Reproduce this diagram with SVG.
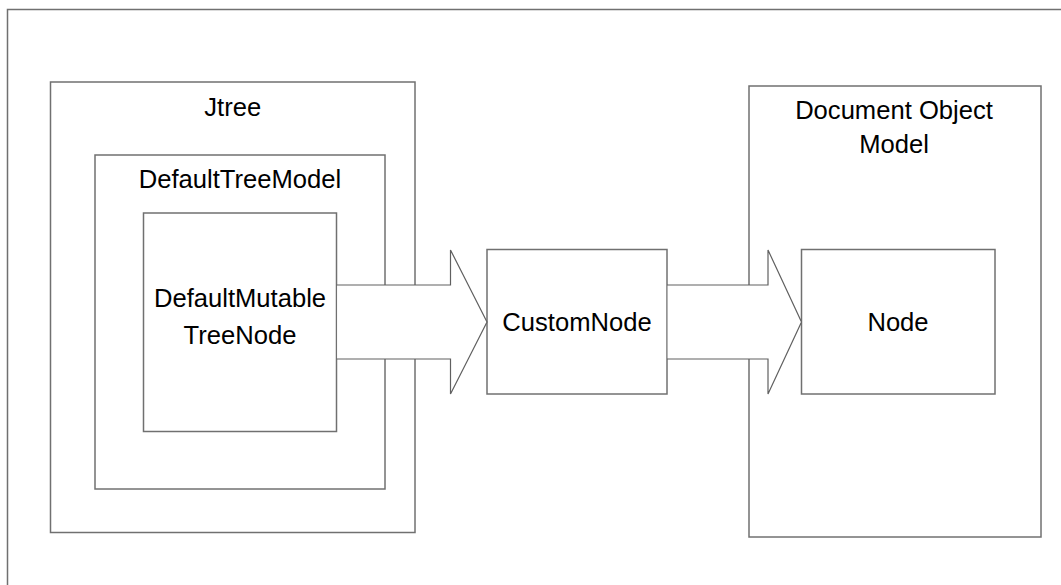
<svg xmlns="http://www.w3.org/2000/svg" width="1061" height="585" viewBox="0 0 1061 585">
  <style>
    .box { fill: #ffffff; stroke: #707070; stroke-width: 1.5; }
    .arrow-fill { fill: #ffffff; stroke: none; }
    .arrow-edge { fill: none; stroke: #606060; stroke-width: 1.2; stroke-linejoin: miter; }
    .frame { fill: none; stroke: #707070; stroke-width: 1.5; }
    .label { font-family: "Liberation Sans", Arial, sans-serif; font-size: 25.6px; fill: #000000; text-anchor: middle; }
  </style>
  <rect x="0" y="0" width="1061" height="585" fill="#ffffff"/>
  <!-- page frame: top and left edges only -->
  <path class="frame" d="M7.5 585 V9.5 H1061"/>

  <g id="jtree">
    <rect class="box" x="50.5" y="82" width="364.5" height="450.5"/>
    <text class="label" x="232.75" y="116">Jtree</text>
  </g>
  <g id="default-tree-model">
    <rect class="box" x="95" y="155" width="290" height="334"/>
    <text class="label" x="240" y="188">DefaultTreeModel</text>
  </g>
  <g id="default-mutable-tree-node">
    <rect class="box" x="143.5" y="213" width="193" height="218.5"/>
    <text class="label" x="240" y="307">DefaultMutable</text>
    <text class="label" x="240" y="344">TreeNode</text>
  </g>
  <g id="custom-node">
    <rect class="box" x="487" y="249.5" width="180" height="144.5"/>
    <text class="label" x="577" y="331">CustomNode</text>
  </g>
  <g id="document-object-model">
    <rect class="box" x="749" y="86" width="292" height="451"/>
    <text class="label" x="894" y="119">Document Object</text>
    <text class="label" x="894" y="153">Model</text>
  </g>
  <g id="dom-node">
    <rect class="box" x="801.5" y="249.5" width="193.5" height="144.5"/>
    <text class="label" x="898" y="331">Node</text>
  </g>

  <g id="connectors">
    <!-- block arrow: DefaultMutableTreeNode to CustomNode -->
    <polygon class="arrow-fill" points="337.2,285 450.5,285 450.5,250 487,322 450.5,394 450.5,359 337.2,359"/>
    <path class="arrow-edge" d="M336.5 285 H450.5 V250 L487 322 L450.5 394 V359 H336.5"/>
    <!-- block arrow: CustomNode to Node -->
    <polygon class="arrow-fill" points="667.7,285 768,285 768,250 801.5,322 768,394 768,359 667.7,359"/>
    <path class="arrow-edge" d="M667 285 H768 V250 L801.5 322 L768 394 V359 H667"/>
  </g>
</svg>
